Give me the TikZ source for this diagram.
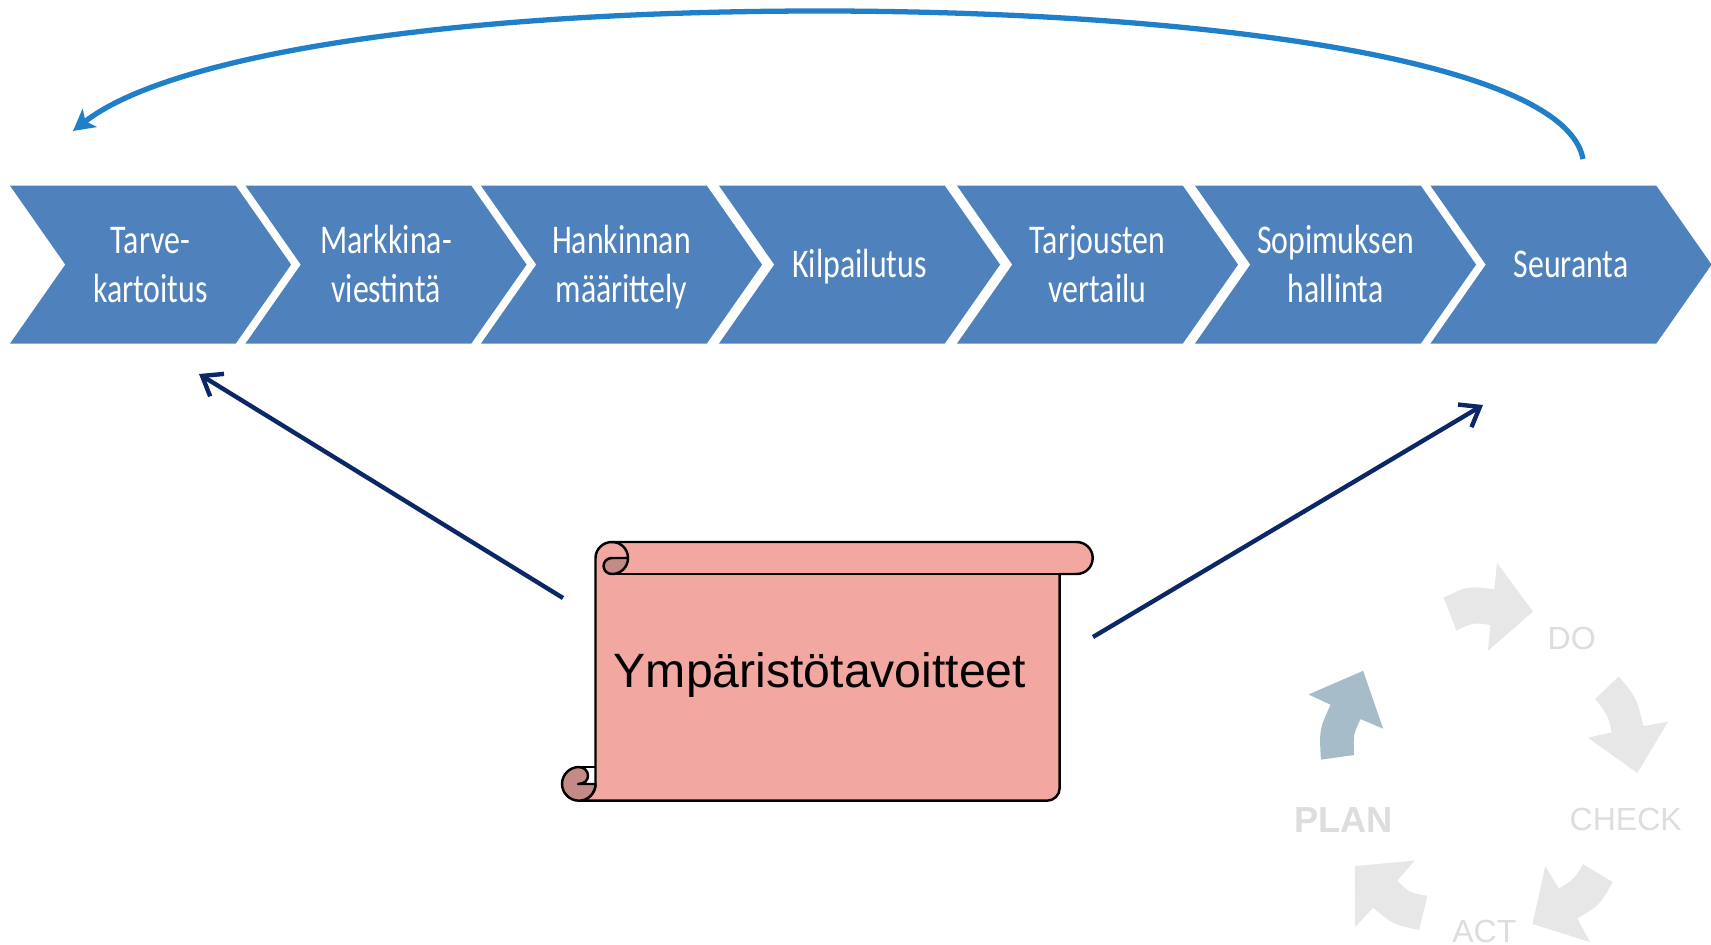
\documentclass[tikz,border=0pt]{standalone}
\usepackage{fontspec}
\setmainfont{Liberation Sans}
\newfontfamily\chevfont{Carlito}
\usetikzlibrary{arrows.meta, shapes.symbols}
\definecolor{chevblue}{HTML}{4F81BD}
\definecolor{loopblue}{HTML}{1F7FC8}
\definecolor{navyline}{HTML}{0B2766}
\definecolor{scrollred}{HTML}{F3A7A1}
\definecolor{scrolldark}{HTML}{C48B86}
\definecolor{pdcagray}{HTML}{E7E7E7}
\definecolor{pdcatext}{HTML}{DDDDDD}
\definecolor{pdcaplan}{HTML}{A6BCC8}
\tikzset{
	chevron/.style={shape=signal, signal to=east, signal from=west, signal pointer angle=110,
		fill=chevblue, text=white, minimum width=2.81cm, minimum height=1.58cm, inner sep=0pt,
		font=\chevfont\fontsize{11.6}{13.9}\selectfont, align=center},
	navyarrow/.style={navyline, line width=1.25pt, -{Straight Barb[length=5pt, width=7.5pt]}},
	scrollline/.style={draw=black, line width=0.7pt, line join=round},
	pdcalabel/.style={text=pdcatext, inner sep=0pt, font=\fontsize{9.1}{10}\selectfont},
}
\begin{document}
\begin{tikzpicture}[x=0.01cm, y=-0.01cm]
	\useasboundingbox (0,0) rectangle (1711,945);
	\foreach \name/\x/\txt in {tarve/150.5/{Tarve-\\kartoitus}, markkina/386/{Markkina-\\viestintä},
		hankinta/621.5/{Hankinnan\\määrittely}, kilpailu/859.5/{Kilpailutus}, vertailu/1097.5/{Tarjousten\\vertailu},
		sopimus/1335.5/{Sopimuksen\\hallinta}, seuranta/1571/{Seuranta}}
		\node[chevron] (\name) at (\x,264.6) {\raisebox{0pt}[\dimexpr\height+1.9pt\relax]{\scalebox{.78}[1]{\begin{tabular}{@{}c@{}}\txt\end{tabular}}}};
	% feedback arc
	\coordinate (loopstart) at (1583,159);
	\coordinate (looptop) at (820,11);
	\coordinate (loopend) at (73,131);
	\draw[loopblue, line width=1.5pt, -{Stealth[length=6pt, width=6.5pt, inset=1.5pt]}] (loopstart) .. controls (1565,60) and (1200,11) .. (looptop)
		.. controls (450,11) and (170,55) .. (loopend);
	% scroll
	\path[scrollline, fill=scrollred] (595.5,784) -- (595.5,558) .. controls (595.5,549) and (603,542) .. (612,542) -- (1076.5,542)
		.. controls (1085.5,542) and (1092.7,549) .. (1092.7,558) .. controls (1092.7,567) and (1085.5,574) .. (1076.5,574)
		-- (1059.7,574) -- (1059.7,788) .. controls (1059.7,795) and (1054,800.7) .. (1047,800.7) -- (579,800.7)
		.. controls (588,800.7) and (595.5,793) .. (595.5,784) -- cycle;
	\path[scrollline, fill=scrolldark] (612,574) .. controls (607,574) and (603.6,570.5) .. (603.6,566) .. controls (603.6,561.5) and (607,558) .. (612,558)
		-- (628,558) .. controls (628,567) and (621,574) .. (612,574) -- cycle;
	\draw[scrollline] (612,542) .. controls (621,542) and (628,549) .. (628,558);
	\draw[scrollline] (612,574) -- (1059.7,574);
	\path[scrollline, fill=scrolldark] (579,767) .. controls (569.6,767) and (562,774.6) .. (562,784) .. controls (562,793) and (569.6,800.7) .. (579,800.7)
		.. controls (588,800.7) and (595.5,793) .. (595.5,784) -- (578,784) .. controls (585,784) and (588,780) .. (588,775.5)
		.. controls (588,771) and (584,767) .. (579,767) -- cycle;
	\draw[scrollline] (579,767) -- (595.5,767);
	\node[inner sep=0pt, font=\fontsize{13.7}{16}\selectfont] (goal) at (820,675.5) {Ympäristötavoitteet};
	% arrows out of the scroll
	\coordinate (goalleft) at (563,598);
	\coordinate (goalright) at (1093,637);
	\coordinate (tarvegoal) at (199,374);
	\coordinate (seurantagoal) at (1483,405);
	\draw[navyarrow] (goalleft) -- (tarvegoal);
	\draw[navyarrow] (goalright) -- (seurantagoal);
	% pdca wheel
	\begin{scope}[shift={(1260,550)}, x=0.00333cm, y=-0.00333cm]
		\fill[pdcagray] (552,143) -- (590,242) .. controls (640,218) .. (692,225) -- (685,303) -- (820,185) -- (712,38) -- (704,118) .. controls (625,108) .. cycle;
		\fill[pdcagray] (1078,380) -- (1007,448) .. controls (1045,495) .. (1057,548) -- (985,564) -- (1134,670) -- (1226,516) -- (1152,529) .. controls (1132,445) .. cycle;
		\fill[pdcagray] (1060,998) -- (971,944) .. controls (943,990) .. (898,1017) -- (857,950) -- (819,1124) -- (992,1178) -- (953,1107) .. controls (1020,1068) .. cycle;
		\fill[pdcagray] (503,1039) .. controls (450,1030) .. (412,994) -- (465,933) -- (285,950) -- (286,1133) -- (340,1075) .. controls (400,1125) .. (478,1142) -- cycle;
		\fill[pdcaplan] (183,630) -- (283,616) .. controls (280,555) .. (302,508) -- (370,537) -- (310,363) -- (146,434) -- (212,465) .. controls (178,540) .. cycle;
	\end{scope}
	\node[pdcalabel] (dolabel) at (1571.7,638.8) {DO};
	\node[pdcalabel] (checklabel) at (1625.7,819.7) {CHECK};
	\node[pdcalabel] (actlabel) at (1484.3,931.2) {ACT};
	\node[pdcalabel, font=\fontsize{10.3}{12}\selectfont\bfseries] (planlabel) at (1343.3,820) {PLAN};
\end{tikzpicture}
\end{document}
